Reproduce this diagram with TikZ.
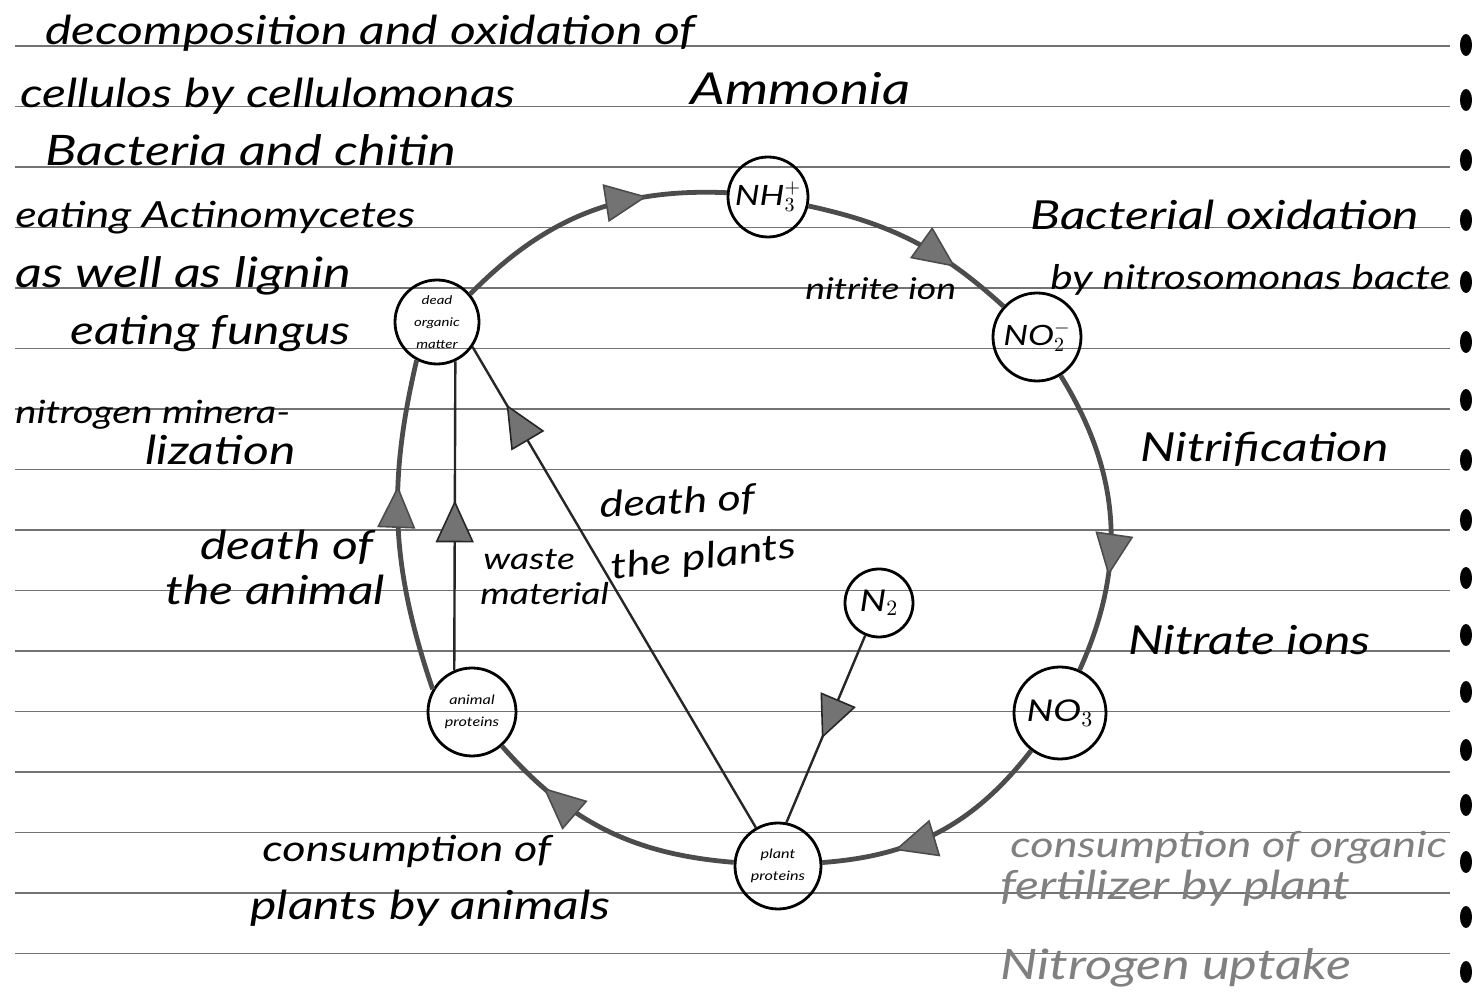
\documentclass[tikz,border=0pt]{standalone}
\usepackage{fontspec}
\setmainfont{Lato}[FakeStretch=1.25]
\usetikzlibrary{arrows.meta,decorations.markings}
\begin{document}
\begin{tikzpicture}[x=0.5pt,y=-0.5pt,
  hand/.style={font=\fontsize{20}{22}\selectfont\itshape, anchor=base west, inner sep=0pt},
  fs/.style={font=\fontsize{#1}{#1}\selectfont\itshape},
  faded/.style={text=black!50},
  spc/.style={circle, draw, line width=1.4pt, minimum size=#1, inner sep=0pt, align=center},
  cyc/.style={draw=black!70, line width=2.4pt},
  thinline/.style={draw=black!85, line width=1.2pt},
  midarrow/.style={postaction={decorate, decoration={markings, mark=at position #1 with {\arrow{Triangle[length=21pt,width=19pt,fill=black!55,line width=0.8pt]}}}}},
  ruled/.style={draw=black!55, line width=0.9pt},
  hole/.style={fill=black, draw=none}
]
\useasboundingbox (0,0) rectangle (1479,1004);
\fill[white] (0,0) rectangle (1479,1004);

% ruled lines
\foreach \k in {0,...,15} {
  \draw[ruled] (15,{46+60.5*\k}) -- (1450,{46+60.5*\k});
}
% margin marks
\foreach \yy in {45,100,160,220,282,342,400,460,520,578,635,692,750,805,862,917,972} {
  \fill[hole] (1466,\yy) ellipse (6 and 11);
}

% species nodes
\node[spc=42pt] (dead) at (437,322) {\fontsize{6}{6.5}\selectfont\itshape dead\\[-1pt]\fontsize{6}{6.5}\selectfont\itshape organic\\[-1pt]\fontsize{6}{6.5}\selectfont\itshape matter};
\node[spc=40pt] (nh3) at (768,197) {\fontsize{14}{15}\selectfont\itshape NH$_3^{+}$};
\node[spc=44pt] (no2) at (1037,337) {\fontsize{14}{15}\selectfont\itshape NO$_2^{-}$};
\node[spc=46pt] (no3) at (1060,713) {\fontsize{15}{16}\selectfont\itshape NO$_3$};
\node[spc=43pt] (plant) at (778,866) {\fontsize{6.5}{7}\selectfont\itshape plant\\[-1pt]\fontsize{6.5}{7}\selectfont\itshape proteins};
\node[spc=44pt] (animal) at (472,712) {\fontsize{6.5}{7}\selectfont\itshape animal\\[-1pt]\fontsize{6.5}{7}\selectfont\itshape proteins};
\node[spc=34pt] (n2) at (879,603) {\fontsize{15}{16}\selectfont\itshape N$_2$};

% cycle
\draw[cyc, midarrow=0.72] (dead.40) to[bend left=24] (nh3);
\draw[cyc, midarrow=0.72] (nh3) to[bend left=15] (no2);
\draw[cyc, midarrow=0.68] (no2) to[bend left=28] (no3);
\draw[cyc, midarrow=0.7] (no3) to[bend left=24] (plant);
\draw[cyc, midarrow=0.78] (plant) to[bend left=22] (animal);
\draw[cyc, midarrow=0.62] (animal.150) to[bend left=16] (dead.-118);

% straight connectors
\draw[thinline, midarrow=0.55] (animal.113) -- (dead.-65);
\draw[thinline, midarrow=0.88] (plant.120) -- (dead.-35);
\draw[thinline, midarrow=0.55] (n2.-113) -- (plant.79);

% texts
\node[hand] (t1) at (45,45) {decomposition and oxidation of};
\node[hand] (t2) at (20,108) {cellulos by cellulomonas};
\node[hand, fs=22] (t3) at (690,105) {Ammonia};
\node[hand, fs=21] (t4) at (45,166) {Bacteria and chitin};
\node[hand, fs=18] (t5) at (15,228) {eating Actinomycetes};
\node[hand, fs=21] (t6) at (15,288) {as well as lignin};
\node[hand] (t7) at (70,345) {eating fungus};
\node[hand, fs=16] (t8) at (15,424) {nitrogen minera-};
\node[hand] (t9) at (145,465) {lization};

\node[hand] (t10) at (1030,230) {Bacterial oxidation};
\node[hand, fs=17] (t11) at (1050,290) {by nitrosomonas bacte};
\node[hand, fs=15] (t12) at (805,300) {nitrite ion};
\node[hand] (t13) at (1140,462) {Nitrification};
\node[hand] (t14) at (1128,655) {Nitrate ions};
\node[hand, fs=18, faded] (t15) at (1010,858) {consumption of organic};
\node[hand, faded] (t16) at (1000,900) {fertilizer by plant};
\node[hand, fs=21, faded] (t17) at (1000,980) {Nitrogen uptake};

\node[hand, fs=18] (t18) at (262,862) {consumption of};
\node[hand] (t19) at (250,920) {plants by animals};
\node[hand] (t20) at (200,560) {death of};
\node[hand] (t21) at (165,605) {the animal};
\node[hand, fs=15] (t22) at (483,570) {waste};
\node[hand, fs=15] (t23) at (480,605) {material};
\node[hand, fs=18, rotate=3] (t24) at (600,518) {death of};
\node[hand, fs=18, rotate=7] (t25) at (612,580) {the plants};
\end{tikzpicture}
\end{document}
